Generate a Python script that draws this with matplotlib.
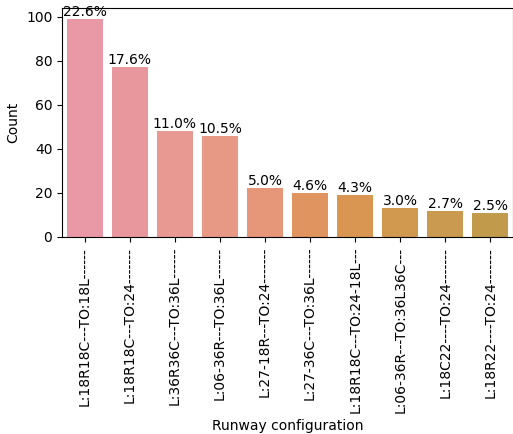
import matplotlib
matplotlib.use('Agg')
import matplotlib.pyplot as plt
import seaborn as sns

configs = ['L:18R18C---TO:18L------', 'L:18R18C---TO:24-------', 'L:36R36C---TO:36L------',
           'L:06-36R---TO:36L------', 'L:27-18R---TO:24-------', 'L:27-36C---TO:36L------',
           'L:18R18C---TO:24-18L---', 'L:06-36R---TO:36L36C---', 'L:18C22----TO:24-------',
           'L:18R22----TO:24-------']
counts = [99, 77, 48, 46, 22, 20, 19, 13, 12, 11]
total = 438

# colours
colors = ['#e999a5', '#e8989c', '#e89a92', '#e79985', '#e6977a',
          '#e0945f', '#d99652', '#d19950', '#c99a4f', '#c29a4c']

fig = plt.figure(figsize=(5.13, 4.34), dpi=100)
ax = fig.add_axes([0.121, 0.454, 0.879, 0.528])
sns.barplot(x=configs, y=counts, hue=configs, palette=colors, saturation=1,
            legend=False, ax=ax)

labels = ['%.1f%%' % (100 * c / total) for c in counts]
for cont, lab in zip(ax.containers, labels):
    ax.bar_label(cont, labels=[lab], fontsize=10)

ax.set_xlabel('Runway configuration')
ax.set_ylabel('Count')
ax.tick_params(axis='x', rotation=90)
plt.savefig('out.png')
plt.close()
